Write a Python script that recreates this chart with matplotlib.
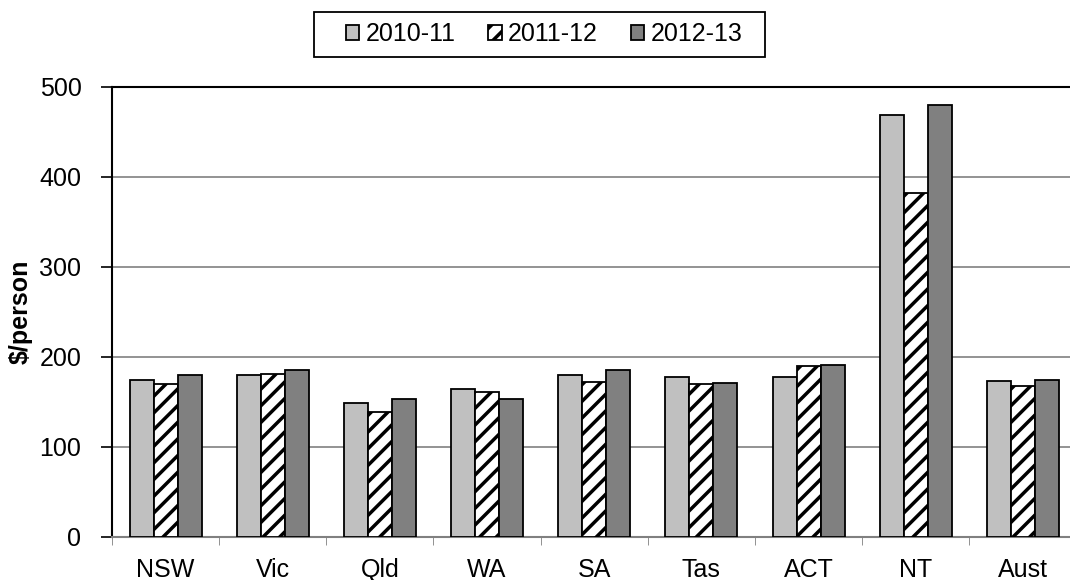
import matplotlib.pyplot as plt
from matplotlib.patches import Rectangle
import numpy as np

plt.rcParams['font.family'] = ['Liberation Sans', 'DejaVu Sans']
plt.rcParams['hatch.linewidth'] = 2.5

regions = ['NSW', 'Vic', 'Qld', 'WA', 'SA', 'Tas', 'ACT', 'NT', 'Aust']
years = ['2010-11', '2011-12', '2012-13']
v_2010_11 = [175, 180, 149, 164, 180, 178, 178, 469, 173]
v_2011_12 = [170, 181, 139, 161, 172, 170, 190, 382, 168]
v_2012_13 = [180, 186, 153, 153, 186, 171, 191, 480, 175]

fig = plt.figure(figsize=(10.7, 5.8), dpi=100)
ax = fig.add_axes([112 / 1070, 43 / 580, 964.4 / 1070, 450 / 580])

x = np.arange(len(regions))
w = 0.224
ax.bar(x - w, v_2010_11, w, color='#c0c0c0', edgecolor='black', linewidth=1.3, label=years[0], zorder=3)
ax.bar(x, v_2011_12, w, color='white', edgecolor='black', hatch='//', linewidth=1.3, label=years[1], zorder=3)
ax.bar(x + w, v_2012_13, w, color='#808080', edgecolor='black', linewidth=1.3, label=years[2], zorder=3)

ax.set_xlim(-0.5, len(regions) - 0.5)
ax.set_ylim(0, 500)
ax.set_yticks(range(0, 501, 100))
ax.yaxis.grid(True, color='#808080', linewidth=1.2, zorder=0)

ax.set_xticks(x)
ax.set_xticklabels(regions)
ax.set_xticks(np.arange(len(regions)) - 0.5, minor=True)
ax.tick_params(axis='x', which='major', length=0, pad=15, labelsize=18)
ax.tick_params(axis='x', which='minor', length=6, color='#808080', direction='out')
ax.tick_params(axis='y', length=8, width=1.2, pad=14, labelsize=18)

ax.set_ylabel(r'\$/person', fontsize=18, fontweight='bold')
ax.yaxis.set_label_coords(-0.082, 0.5)

ax.spines['right'].set_visible(False)
ax.spines['top'].set_color('black')
ax.spines['top'].set_linewidth(1.5)
ax.spines['left'].set_linewidth(1.5)
ax.spines['bottom'].set_color('#808080')
ax.spines['bottom'].set_linewidth(1.5)

# legend without its own frame, box drawn around it
fig.legend(loc='center', bbox_to_anchor=(544 / 1070, 1 - 34 / 580), ncol=3, fontsize=18,
           frameon=False, handlelength=0.55, handleheight=0.55,
           handletextpad=0.25, columnspacing=1.3, borderpad=0.2)
fig.add_artist(Rectangle((314 / 1070, 1 - 57 / 580), 451 / 1070, 45 / 580,
                         transform=fig.transFigure, fill=False, edgecolor='black', linewidth=1.3))

fig.savefig('out.png', dpi=100)
